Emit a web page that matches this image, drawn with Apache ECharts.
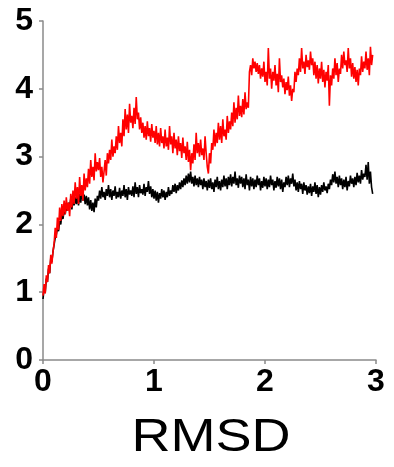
<!DOCTYPE html>
<html><head><meta charset="utf-8">
<script src="https://cdn.jsdelivr.net/npm/echarts@6/dist/echarts.min.js"></script>
<style>html,body{margin:0;padding:0;background:#fff}#c{width:394px;height:467px}</style>
</head><body><div id="c"></div>
<script>
// sampling grid of the x axis
const xStart = 0, xStep = 0.01;
const xTicks = [0, 1, 2, 3];
const yTicks = [0, 1, 2, 3, 4, 5];
const xTitle = 'RMSD';

const redValues = [
0.95,1.12,0.98,1.25,1.15,1.40,1.28,1.55,1.42,1.60,
1.72,1.95,1.80,2.10,1.92,2.25,2.05,2.30,2.12,2.35,
2.15,2.40,2.20,2.32,2.12,2.45,2.25,2.50,2.30,2.62,
2.38,2.55,2.30,2.70,2.42,2.58,2.35,2.75,2.50,2.68,
2.55,2.82,2.60,2.95,2.70,2.85,2.65,3.05,2.78,2.92,
2.80,2.98,2.70,2.85,2.62,2.78,2.95,2.72,3.05,2.90,
3.10,2.95,3.25,3.00,3.15,3.05,3.30,3.10,3.45,3.20,
3.35,3.15,3.55,3.30,3.70,3.40,3.62,3.35,3.78,3.50,
3.60,3.42,3.72,3.48,3.88,3.55,3.65,3.40,3.58,3.35,
3.50,3.28,3.45,3.25,3.52,3.30,3.42,3.22,3.48,3.28,
3.38,3.20,3.45,3.18,3.35,3.15,3.42,3.20,3.30,3.12,
3.40,3.15,3.28,3.10,3.45,3.18,3.30,3.05,3.35,3.12,
3.25,3.02,3.30,3.08,3.20,2.98,3.28,3.05,3.15,2.95,
3.22,2.92,3.10,2.80,3.05,2.90,3.18,2.95,3.35,3.05,
3.20,3.00,3.25,3.02,3.12,2.95,3.30,3.05,2.85,2.75,
3.05,2.90,3.20,3.10,3.40,3.15,3.35,3.20,3.50,3.25,
3.45,3.20,3.55,3.30,3.40,3.25,3.60,3.35,3.52,3.40,
3.65,3.45,3.80,3.50,3.72,3.55,3.90,3.60,3.75,3.58,
3.85,3.62,3.95,3.70,3.80,3.72,4.25,4.35,4.20,4.45,
4.30,4.40,4.25,4.38,4.22,4.35,4.15,4.30,4.18,4.40,
4.10,4.25,4.05,4.60,4.15,4.30,4.00,4.25,4.12,4.35,
4.05,4.22,3.95,4.45,4.10,4.20,4.02,4.15,3.92,4.10,
3.98,4.18,3.90,4.05,3.82,4.00,3.95,4.25,4.10,4.30,
4.20,4.45,4.25,4.60,4.30,4.40,4.22,4.50,4.32,4.42,
4.28,4.55,4.35,4.45,4.20,4.40,4.15,4.35,4.08,4.30,
4.15,4.40,4.10,4.28,4.02,4.25,4.12,4.35,3.75,4.20,
4.05,4.30,4.15,4.45,4.20,4.38,4.10,4.30,4.22,4.50,
4.30,4.55,4.35,4.42,4.25,4.60,4.30,4.45,4.18,4.38,
4.15,4.32,4.10,4.28,4.05,4.30,4.20,4.48,4.25,4.40,
4.30,4.55,4.28,4.45,4.20,4.62,4.35,4.50
];

const blackValues = [
0.90,1.05,1.00,1.20,1.15,1.35,1.28,1.50,1.45,1.60,
1.70,1.80,1.85,1.95,1.90,2.05,2.00,2.15,2.08,2.20,
2.15,2.28,2.20,2.32,2.25,2.38,2.22,2.35,2.28,2.40,
2.30,2.42,2.28,2.45,2.32,2.48,2.35,2.44,2.30,2.42,
2.28,2.40,2.22,2.36,2.20,2.32,2.18,2.38,2.25,2.42,
2.35,2.50,2.38,2.55,2.40,2.48,2.36,2.52,2.42,2.58,
2.40,2.52,2.36,2.50,2.42,2.56,2.38,2.48,2.40,2.54,
2.38,2.50,2.42,2.58,2.40,2.52,2.36,2.55,2.44,2.50,
2.42,2.56,2.40,2.62,2.45,2.55,2.40,2.58,2.46,2.52,
2.44,2.60,2.42,2.55,2.48,2.64,2.45,2.56,2.40,2.52,
2.38,2.50,2.35,2.48,2.32,2.46,2.38,2.52,2.40,2.50,
2.36,2.48,2.40,2.55,2.42,2.50,2.45,2.58,2.48,2.60,
2.46,2.58,2.50,2.62,2.52,2.65,2.55,2.68,2.58,2.72,
2.60,2.75,2.62,2.78,2.60,2.70,2.56,2.72,2.58,2.68,
2.55,2.70,2.58,2.66,2.52,2.68,2.55,2.64,2.50,2.66,
2.54,2.68,2.52,2.62,2.48,2.66,2.55,2.70,2.52,2.64,
2.50,2.66,2.55,2.72,2.56,2.68,2.52,2.70,2.58,2.74,
2.56,2.70,2.60,2.78,2.58,2.68,2.54,2.72,2.60,2.70,
2.55,2.68,2.52,2.74,2.58,2.66,2.50,2.70,2.56,2.68,
2.52,2.66,2.55,2.72,2.58,2.68,2.50,2.64,2.54,2.70,
2.56,2.68,2.52,2.66,2.55,2.72,2.58,2.66,2.50,2.64,
2.54,2.70,2.56,2.68,2.52,2.66,2.48,2.62,2.55,2.70,
2.58,2.72,2.55,2.68,2.60,2.75,2.56,2.66,2.50,2.62,
2.48,2.64,2.52,2.60,2.45,2.62,2.50,2.58,2.44,2.56,
2.46,2.60,2.42,2.56,2.48,2.62,2.45,2.58,2.40,2.55,
2.44,2.58,2.48,2.62,2.50,2.56,2.46,2.60,2.52,2.66,
2.58,2.74,2.62,2.78,2.60,2.70,2.55,2.72,2.58,2.68,
2.52,2.66,2.55,2.70,2.50,2.64,2.56,2.72,2.60,2.68,
2.55,2.70,2.58,2.76,2.62,2.72,2.60,2.80,2.66,2.75,
2.70,2.88,2.66,2.92,2.60,2.78,2.55,2.45
];

function pairs(vals) {
  return vals.map((v, i) => [+(xStart + i * xStep).toFixed(4), v]);
}

const chart = echarts.init(document.getElementById('c'), null, {renderer: 'canvas'});
const labelFont = {color: '#000', fontFamily: 'Liberation Sans, Arial, sans-serif', fontWeight: 'bold', fontSize: 32};
const axisGray = '#8a8a8a';
chart.setOption({
  animation: false,
  backgroundColor: '#fff',
  grid: {left: 43, right: 18, top: 21, bottom: 107, containLabel: false},
  xAxis: {
    type: 'value', min: xTicks[0], max: xTicks[xTicks.length - 1], interval: 1,
    axisLine: {show: true, lineStyle: {color: axisGray, width: 1.5}},
    axisTick: {show: true, length: 4, lineStyle: {color: axisGray, width: 1.5}},
    splitLine: {show: false},
    axisLabel: Object.assign({margin: 6}, labelFont)
  },
  yAxis: {
    type: 'value', min: yTicks[0], max: yTicks[yTicks.length - 1], interval: 1,
    axisLine: {show: true, lineStyle: {color: axisGray, width: 1.5}},
    axisTick: {show: true, length: 4, lineStyle: {color: axisGray, width: 1.5}},
    splitLine: {show: false},
    axisLabel: Object.assign({margin: 10}, labelFont)
  },
  graphic: [{
    type: 'text', x: 211, y: 438, scaleX: 1.15,
    style: {text: xTitle, fill: '#000', font: '47px "Liberation Sans", Arial, sans-serif',
            textAlign: 'center', textVerticalAlign: 'middle'}
  }],
  series: [
    {type: 'line', data: pairs(blackValues), showSymbol: false, symbol: 'none',
     lineStyle: {color: '#000000', width: 1.6}, itemStyle: {color: '#000000'}},
    {type: 'line', data: pairs(redValues), showSymbol: false, symbol: 'none',
     lineStyle: {color: '#ff0000', width: 1.6}, itemStyle: {color: '#ff0000'}}
  ]
});
</script>
</body></html>
